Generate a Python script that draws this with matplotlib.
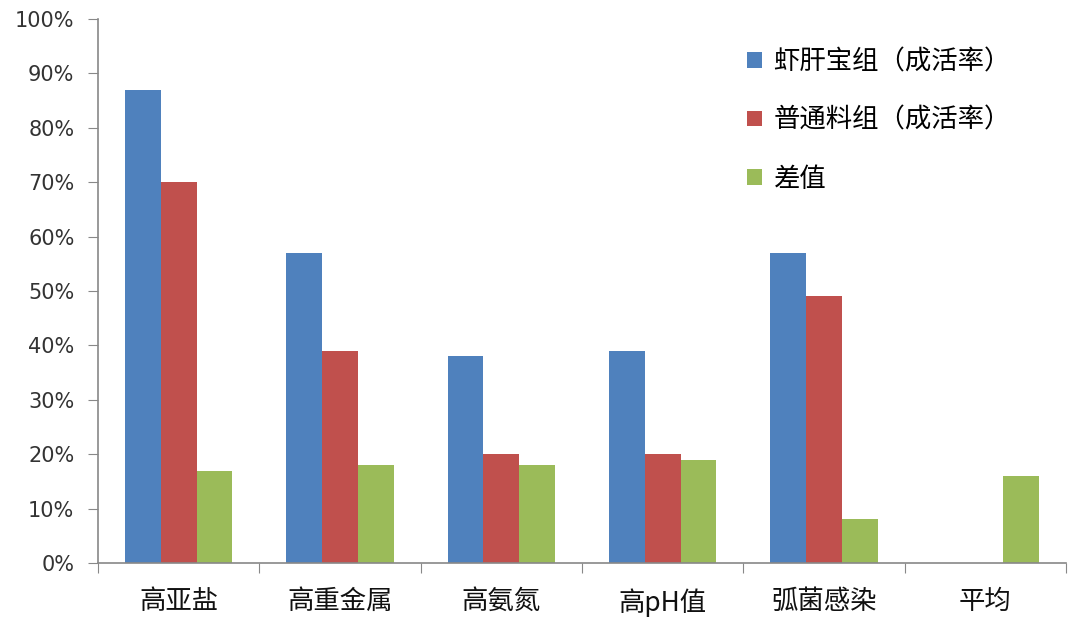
import matplotlib.pyplot as plt
import numpy as np
from matplotlib.ticker import FixedLocator, PercentFormatter

plt.rcParams['font.family'] = ['Noto Sans CJK SC', 'DejaVu Sans']

categories = ['高亚盐', '高重金属', '高氨氮', '高pH值', '弧菌感染', '平均']
series_names = ['虾肝宝组（成活率）', '普通料组（成活率）', '差值']
shrimp = [87, 57, 38, 39, 57, np.nan]
normal = [70, 39, 20, 20, 49, np.nan]
diff = [17, 18, 18, 19, 8, 16]
colors = ['#4F81BD', '#C0504D', '#9BBB59']

fig = plt.figure(figsize=(10.8, 6.19), dpi=100)
ax = fig.add_axes([98 / 1080, 56 / 619, 968 / 1080, 544 / 619])

x = np.arange(len(categories))
w = 1 / 4.5
for i, (vals, name, c) in enumerate(zip([shrimp, normal, diff], series_names, colors)):
    ax.bar(x + (i - 1) * w, vals, width=w, color=c, label=name)

ax.set_xlim(-0.5, len(categories) - 0.5)
ax.set_ylim(0, 100)
ax.set_yticks(np.arange(0, 101, 10))
ax.yaxis.set_major_formatter(PercentFormatter(decimals=0))

ax.xaxis.set_major_locator(FixedLocator(np.arange(-0.5, len(categories), 1)))
ax.xaxis.set_minor_locator(FixedLocator(x))
ax.set_xticklabels([], minor=False)
ax.set_xticklabels(categories, minor=True, fontsize=19, color='#111111')
ax.tick_params(axis='x', which='major', length=7, color='#888888', direction='out')
ax.tick_params(axis='x', which='minor', length=0, pad=18)
ax.tick_params(axis='y', length=7, color='#888888', labelsize=15, labelcolor='#333333',
               pad=10)
for lbl in ax.get_yticklabels():
    lbl.set_family('DejaVu Sans')

for s in ['top', 'right']:
    ax.spines[s].set_visible(False)
for s in ['left', 'bottom']:
    ax.spines[s].set_color('#888888')
    ax.spines[s].set_linewidth(1.2)

ax.legend(loc='upper left', bbox_to_anchor=(0.646, 0.99), frameon=False, fontsize=19,
          handlelength=0.55, handleheight=0.55, handletextpad=0.45, labelspacing=1.2)

fig.savefig('out.png', dpi=100)
